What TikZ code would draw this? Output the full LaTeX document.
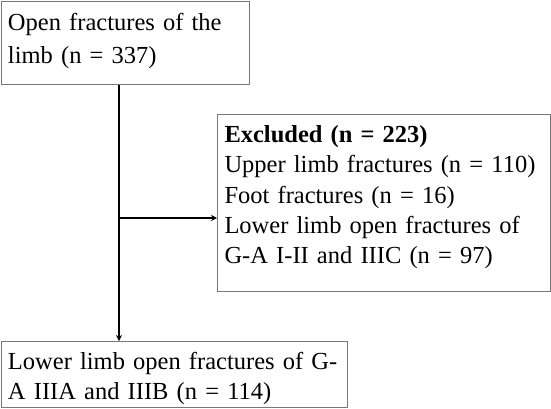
\documentclass[tikz,border=0pt]{standalone}
\usepackage{fontspec}
\setmainfont{Liberation Serif}
\usepackage{tikz}
\usetikzlibrary{arrows.meta,positioning}
\definecolor{boxGray}{RGB}{120,120,120}
\definecolor{lineDark}{RGB}{0,0,0}
\tikzset{
  flowbox/.style={
    rectangle, draw=boxGray, line width=1pt, fill=white,
    anchor=north west, align=left, inner xsep=7pt, inner ysep=0pt,
    font=\fontsize{24.5}{30.3}\selectfont
  },
  flowArrow/.style={-{Stealth[length=6pt,width=6pt]}, line width=1.6pt, color=lineDark}
}
\newcommand{\topstrut}[1]{\rule{0pt}{#1}}
\newcommand{\botstrut}[1]{\rule[-#1]{0pt}{#1}}

\begin{document}
\begin{tikzpicture}[x=1pt, y=-1pt]
  \useasboundingbox (0,0) rectangle (551,408);
  % boxes
  \node[flowbox, text width=234.5pt, font=\fontsize{24.5}{33}\selectfont] (total) at (0.5,0.5)
    {\topstrut{29.5pt}Open fractures of the\\ limb (n = 337)\botstrut{21pt}};
  \node[flowbox, text width=319pt] (excluded) at (217,114)
    {\topstrut{28pt}\textbf{Excluded (n = 223)}\\
     Upper limb fractures (n = 110)\\
     Foot fractures (n = 16)\\
     Lower limb open fractures of\\
     G-A I-II and IIIC (n = 97)\botstrut{28pt}};
  \node[flowbox, text width=332.5pt, below=256pt of total.south west, anchor=north west] (included)
    {\topstrut{28pt}Lower limb open fractures of G-\\ A IIIA and IIIB (n = 114)\botstrut{8pt}};
  % connectors
  \coordinate (split) at (119,218);
  \draw[flowArrow] (split |- total.south) -- (split |- included.north);
  \draw[flowArrow] (split) -- (split -| excluded.west);
\end{tikzpicture}
\end{document}
